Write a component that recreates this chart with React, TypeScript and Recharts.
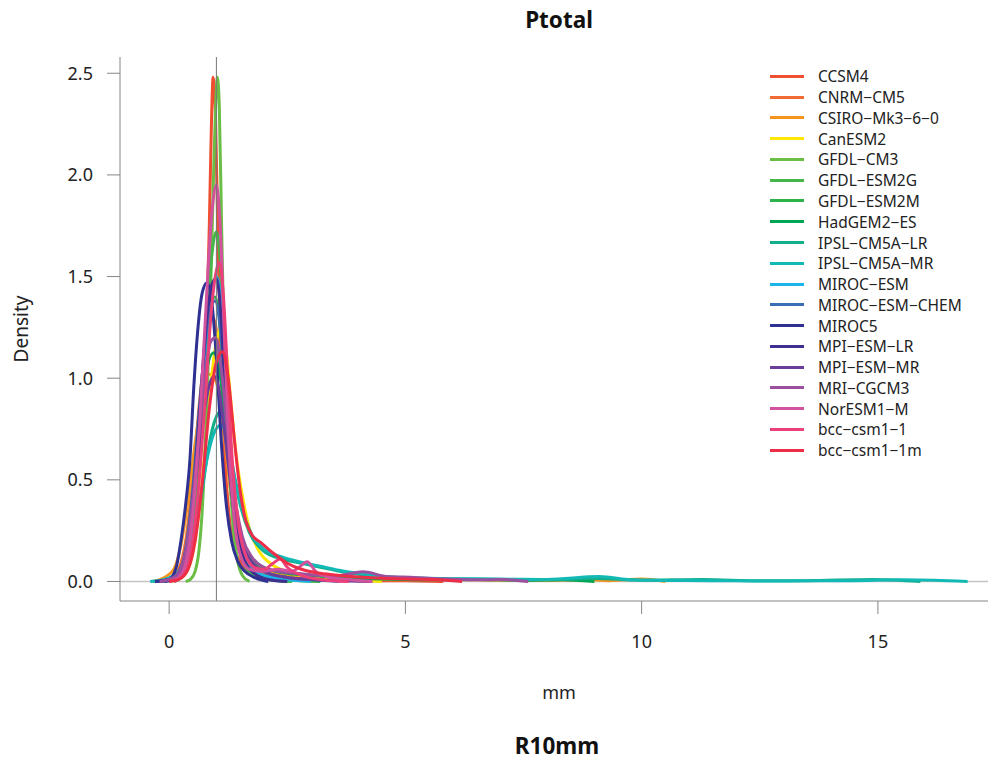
import { Line, LineChart, ReferenceLine, XAxis, YAxis } from "recharts";

type Pt = [number, number];

const X_TICKS = [0, 5, 10, 15];
const Y_TICKS = [0, 0.5, 1, 1.5, 2, 2.5];

// density curves, [mm, density]
const CCSM4: Pt[] = [[-0.3, 0], [0.1, 0.01], [0.3, 0.06], [0.5, 0.2], [0.6, 0.5], [0.7, 0.95], [0.78, 1.25], [0.85, 1.75], [0.89, 2.2], [0.93, 2.48], [0.98, 2.3], [1.04, 1.6], [1.1, 1.05], [1.18, 0.6], [1.28, 0.3], [1.4, 0.15], [1.6, 0.07], [1.9, 0.03], [2.5, 0.02], [3.0, 0.01], [4.0, 0.005], [5.0, 0.003], [5.8, 0]];
const CNRM_CM5: Pt[] = [[-0.3, 0], [0, 0.01], [0.2, 0.06], [0.35, 0.2], [0.5, 0.5], [0.65, 0.9], [0.8, 1.2], [0.92, 1.3], [1.05, 1.15], [1.2, 0.7], [1.35, 0.35], [1.5, 0.17], [1.7, 0.08], [2.0, 0.04], [2.5, 0.02], [3.0, 0.01], [3.5, 0.008], [4.2, 0]];
const CSIRO: Pt[] = [[-0.35, 0], [-0.1, 0.02], [0.1, 0.06], [0.25, 0.18], [0.4, 0.4], [0.55, 0.68], [0.7, 0.9], [0.85, 1.02], [1.0, 0.98], [1.15, 0.75], [1.3, 0.45], [1.45, 0.25], [1.6, 0.14], [1.8, 0.08], [2.1, 0.05], [2.5, 0.03], [3, 0.02], [4, 0.012], [5, 0.008], [6, 0.01], [7, 0.006], [8, 0.005], [8.8, 0.01], [9.3, 0.004], [10.0, 0.012], [10.5, 0]];
const CANESM2: Pt[] = [[0, 0], [0.2, 0.01], [0.4, 0.06], [0.55, 0.2], [0.7, 0.5], [0.85, 0.9], [1.0, 1.18], [1.1, 1.25], [1.2, 1.15], [1.3, 0.9], [1.42, 0.62], [1.55, 0.42], [1.7, 0.26], [1.9, 0.15], [2.2, 0.08], [2.6, 0.04], [3, 0.02], [3.5, 0.01], [4.5, 0]];
const GFDL_CM3: Pt[] = [[0.35, 0], [0.45, 0.01], [0.55, 0.05], [0.63, 0.15], [0.7, 0.35], [0.77, 0.7], [0.83, 1.1], [0.88, 1.45], [0.94, 2.0], [1.0, 2.42], [1.02, 2.48], [1.06, 2.35], [1.11, 1.75], [1.16, 1.2], [1.22, 0.8], [1.29, 0.5], [1.36, 0.25], [1.45, 0.1], [1.55, 0.03], [1.7, 0]];
const GFDL_ESM2G: Pt[] = [[0.1, 0], [0.3, 0.03], [0.45, 0.15], [0.6, 0.5], [0.75, 1.05], [0.88, 1.55], [1.0, 1.72], [1.1, 1.5], [1.2, 0.95], [1.3, 0.5], [1.42, 0.22], [1.6, 0.08], [1.8, 0.03], [2.1, 0.01], [2.6, 0]];
const GFDL_ESM2M: Pt[] = [[0, 0], [0.2, 0.02], [0.38, 0.12], [0.55, 0.45], [0.7, 0.95], [0.85, 1.3], [0.97, 1.4], [1.1, 1.2], [1.22, 0.75], [1.35, 0.38], [1.5, 0.17], [1.7, 0.07], [2.0, 0.03], [2.5, 0.01], [3.2, 0]];
const HADGEM2_ES: Pt[] = [[-0.2, 0], [0.1, 0.02], [0.3, 0.1], [0.45, 0.3], [0.6, 0.65], [0.75, 0.98], [0.94, 1.125], [1.1, 0.98], [1.25, 0.65], [1.4, 0.36], [1.55, 0.2], [1.75, 0.11], [2.0, 0.07], [2.5, 0.04], [3, 0.03], [3.5, 0.02], [4.5, 0.012], [5.5, 0.008], [6.5, 0.01], [7.5, 0.006], [8.3, 0.008], [9.0, 0]];
const IPSL_LR: Pt[] = [[-0.2, 0], [0.1, 0.02], [0.3, 0.08], [0.5, 0.22], [0.7, 0.45], [0.85, 0.68], [0.98, 0.8], [1.08, 0.835], [1.2, 0.75], [1.35, 0.55], [1.5, 0.38], [1.7, 0.24], [2.0, 0.15], [2.4, 0.11], [2.8, 0.09], [3.2, 0.07], [3.6, 0.05], [4.0, 0.035], [4.5, 0.025], [5, 0.018], [6, 0.012], [7, 0.01], [8, 0.008], [9, 0.015], [10, 0.006], [11.3, 0.01], [12.5, 0.003], [13.5, 0.004], [14.9, 0.01], [15.9, 0]];
const IPSL_MR: Pt[] = [[-0.4, 0], [-0.1, 0.01], [0.2, 0.05], [0.45, 0.18], [0.65, 0.4], [0.8, 0.6], [0.95, 0.73], [1.1, 0.77], [1.25, 0.68], [1.4, 0.5], [1.55, 0.35], [1.75, 0.23], [2.0, 0.16], [2.4, 0.12], [2.8, 0.095], [3.2, 0.075], [3.6, 0.055], [4.0, 0.04], [4.5, 0.025], [5.0, 0.018], [6.0, 0.014], [7, 0.012], [8, 0.01], [9.1, 0.024], [9.8, 0.008], [10.5, 0.005], [11.5, 0.004], [12.5, 0.002], [13.5, 0.003], [14.5, 0.004], [15.5, 0.008], [16.2, 0.006], [16.9, 0]];
const MIROC_ESM: Pt[] = [[0, 0], [0.2, 0.02], [0.38, 0.12], [0.52, 0.4], [0.68, 0.9], [0.85, 1.35], [1.0, 1.5], [1.12, 1.32], [1.25, 0.8], [1.38, 0.4], [1.52, 0.18], [1.7, 0.08], [2.0, 0.03], [2.5, 0.01], [3.0, 0]];
const MIROC_ESM_CHEM: Pt[] = [[-0.1, 0], [0.15, 0.02], [0.32, 0.12], [0.48, 0.4], [0.65, 0.88], [0.82, 1.28], [0.97, 1.38], [1.1, 1.2], [1.23, 0.75], [1.36, 0.4], [1.5, 0.2], [1.7, 0.1], [2.0, 0.05], [2.5, 0.02], [3.0, 0.01], [3.6, 0]];
const MIROC5: Pt[] = [[-0.3, 0], [0, 0.01], [0.15, 0.07], [0.25, 0.2], [0.35, 0.38], [0.44, 0.6], [0.52, 0.95], [0.6, 1.22], [0.7, 1.42], [0.8, 1.47], [0.9, 1.38], [1.0, 1.1], [1.1, 0.7], [1.2, 0.4], [1.32, 0.2], [1.45, 0.1], [1.6, 0.05], [1.8, 0.02], [2.0, 0.005], [2.1, 0]];
const MPI_LR: Pt[] = [[-0.1, 0], [0.15, 0.02], [0.35, 0.12], [0.5, 0.4], [0.65, 0.85], [0.8, 1.3], [0.92, 1.47], [1.0, 1.49], [1.1, 1.3], [1.2, 0.85], [1.32, 0.45], [1.45, 0.22], [1.6, 0.1], [1.8, 0.04], [2.1, 0.01], [2.5, 0]];
const MPI_MR: Pt[] = [[-0.2, 0], [0.1, 0.02], [0.3, 0.1], [0.45, 0.28], [0.6, 0.58], [0.75, 0.85], [0.87, 0.98], [0.96, 1.01], [1.05, 0.95], [1.18, 0.72], [1.32, 0.45], [1.48, 0.25], [1.65, 0.13], [1.85, 0.07], [2.1, 0.04], [2.5, 0.02], [3, 0.01], [3.5, 0.005], [4.3, 0]];
const MRI_CGCM3: Pt[] = [[-0.2, 0], [0.1, 0.02], [0.3, 0.1], [0.45, 0.3], [0.6, 0.65], [0.75, 1.0], [0.88, 1.18], [0.98, 1.2], [1.1, 1.05], [1.25, 0.7], [1.4, 0.4], [1.55, 0.22], [1.75, 0.12], [2.0, 0.07], [2.3, 0.05], [2.7, 0.04], [3.2, 0.03], [3.6, 0.03], [4.1, 0.048], [4.6, 0.025], [5.2, 0.02], [5.8, 0.012], [6.5, 0.008], [7.0, 0.01], [7.6, 0]];
const NORESM1_M: Pt[] = [[0, 0], [0.2, 0.02], [0.38, 0.12], [0.52, 0.38], [0.65, 0.8], [0.78, 1.35], [0.9, 1.8], [1.0, 1.95], [1.08, 1.75], [1.17, 1.2], [1.27, 0.65], [1.38, 0.3], [1.52, 0.12], [1.7, 0.06], [2.0, 0.05], [2.3, 0.06], [2.6, 0.05], [2.75, 0.07], [2.92, 0.097], [3.1, 0.05], [3.4, 0.02], [3.8, 0.01], [4.3, 0]];
const BCC_CSM1_1: Pt[] = [[0.1, 0], [0.3, 0.03], [0.45, 0.13], [0.6, 0.4], [0.75, 0.85], [0.9, 1.35], [1.0, 1.53], [1.06, 1.57], [1.15, 1.4], [1.25, 0.95], [1.35, 0.55], [1.47, 0.28], [1.6, 0.14], [1.8, 0.07], [2.0, 0.06], [2.2, 0.09], [2.35, 0.11], [2.5, 0.07], [2.8, 0.03], [3.2, 0.01], [3.8, 0]];
const BCC_CSM1_1M: Pt[] = [[0, 0], [0.2, 0.01], [0.4, 0.06], [0.55, 0.2], [0.7, 0.48], [0.85, 0.85], [1.0, 1.08], [1.13, 1.13], [1.25, 1.0], [1.38, 0.7], [1.5, 0.45], [1.62, 0.3], [1.75, 0.23], [1.95, 0.19], [2.2, 0.14], [2.5, 0.09], [2.8, 0.06], [3.2, 0.04], [3.6, 0.03], [4.2, 0.02], [5, 0.012], [5.6, 0.01], [6.2, 0]];

const MODELS = [
  "CCSM4", "CNRM−CM5", "CSIRO−Mk3−6−0", "CanESM2", "GFDL−CM3", "GFDL−ESM2G", "GFDL−ESM2M",
  "HadGEM2−ES", "IPSL−CM5A−LR", "IPSL−CM5A−MR", "MIROC−ESM", "MIROC−ESM−CHEM", "MIROC5",
  "MPI−ESM−LR", "MPI−ESM−MR", "MRI−CGCM3", "NorESM1−M", "bcc−csm1−1", "bcc−csm1−1m",
];
const COLORS = [
  "#f04e30", "#f26b35", "#f7941d", "#ffe600", "#6abd45", "#45b649", "#2db34a",
  "#00a651", "#13af8a", "#12b9b5", "#1cb5ea", "#3a6db5", "#2e3192",
  "#3f2f91", "#6a3d9a", "#9b4f9f", "#d1529e", "#ec407a", "#ee2d48",
];
const CURVES = [
  CCSM4, CNRM_CM5, CSIRO, CANESM2, GFDL_CM3, GFDL_ESM2G, GFDL_ESM2M,
  HADGEM2_ES, IPSL_LR, IPSL_MR, MIROC_ESM, MIROC_ESM_CHEM, MIROC5,
  MPI_LR, MPI_MR, MRI_CGCM3, NORESM1_M, BCC_CSM1_1, BCC_CSM1_1M,
];

const FONT = "'Noto Sans', sans-serif";
const AXIS = "#868686";

export default function App() {
  const series = MODELS.map((name, i) => ({
    name,
    color: COLORS[i],
    data: CURVES[i].map(([x, y]) => ({ x, y })),
  }));

  return (
    <div style={{ position: "absolute", left: 0, top: 0, width: 988, height: 760, background: "#fff", fontFamily: FONT }}>
      <LineChart width={988} height={760} margin={{ top: 57, right: 0, bottom: 99, left: 0 }}>
        <XAxis
          dataKey="x"
          type="number"
          domain={[-1.04, 17.33]}
          ticks={X_TICKS}
          allowDataOverflow
          height={60}
          tickSize={13}
          tickMargin={21}
          stroke={AXIS}
          tick={{ fill: "#222", fontSize: 18, fontFamily: FONT }}
        />
        <YAxis
          type="number"
          domain={[-0.096, 2.58]}
          ticks={Y_TICKS}
          allowDataOverflow
          width={120}
          tickSize={13}
          tickMargin={14}
          stroke={AXIS}
          tickFormatter={(v: number) => v.toFixed(1)}
          tick={{ fill: "#222", fontSize: 18, fontFamily: FONT }}
        />
        <ReferenceLine y={0} stroke="#c4c4c4" strokeWidth={1.5} />
        {series.map((s) => (
          <Line
            key={s.name}
            data={s.data}
            dataKey="y"
            name={s.name}
            type="monotone"
            stroke={s.color}
            strokeWidth={3}
            dot={false}
            activeDot={false}
            isAnimationActive={false}
          />
        ))}
        <ReferenceLine x={1} stroke="#777" strokeWidth={1} />
      </LineChart>

      <div style={{ position: "absolute", left: 0, width: 988, top: 4, textAlign: "center", paddingLeft: 130, boxSizing: "border-box", fontSize: 22.5, fontWeight: 700, color: "#111" }}>
        Ptotal
      </div>
      <div style={{ position: "absolute", left: 0, width: 988, top: 680, textAlign: "center", paddingLeft: 130, boxSizing: "border-box", fontSize: 18, color: "#222" }}>
        mm
      </div>
      <div style={{ position: "absolute", left: 0, width: 988, top: 730, textAlign: "center", paddingLeft: 126, boxSizing: "border-box", fontSize: 22.5, fontWeight: 700, color: "#111" }}>
        R10mm
      </div>
      <div style={{ position: "absolute", left: 21, top: 329, transform: "translate(-50%, -50%) rotate(-90deg)", fontSize: 19, color: "#222", whiteSpace: "nowrap" }}>
        Density
      </div>

      <div style={{ position: "absolute", left: 770, top: 66 }}>
        {series.map((s) => (
          <div key={s.name} style={{ display: "flex", alignItems: "center", height: 20.78 }}>
            <span style={{ display: "inline-block", width: 34, height: 3, background: s.color, marginRight: 14 }} />
            <span style={{ fontSize: 15.5, color: "#222", whiteSpace: "nowrap" }}>{s.name}</span>
          </div>
        ))}
      </div>
    </div>
  );
}
